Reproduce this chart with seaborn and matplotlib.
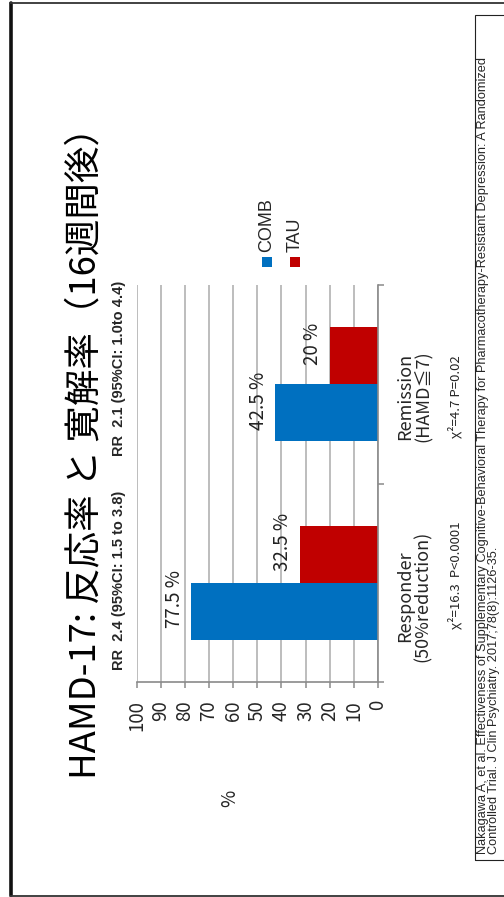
import matplotlib
matplotlib.use("Agg")
import matplotlib.pyplot as plt
import seaborn as sns
import pandas as pd
from matplotlib.patches import Rectangle
from matplotlib.lines import Line2D
from matplotlib.ticker import FixedLocator, NullFormatter

# ---------------- data ----------------
categories = ["Responder", "Remission"]
category_labels = ["Responder\n(50%reduction)", "Remission\n(HAMD≦7)"]
groups = ["COMB", "TAU"]
comb_values = [77.5, 42.5]
tau_values = [32.5, 20.0]
rr_labels = ["RR  2.4 (95%CI: 1.5 to 3.8)", "RR  2.1 (95%CI: 1.0to 4.4)"]
chi_labels = ["χ²=16.3  P<0.0001", "χ²=4.7 P=0.02"]
value_ticks = [0, 10, 20, 30, 40, 50, 60, 70, 80, 90, 100]
title = "HAMD-17: 反応率 と 寛解率（16週間後）"
axis_label = "%"
citation = ("Nakagawa A, et al. Effectiveness of Supplementary Cognitive-Behavioral Therapy for "
            "Pharmacotherapy-Resistant Depression: A Randomized\n"
            "Controlled Trial. J Clin Psychiatry. 2017;78(8):1126-35.")

df = pd.DataFrame({
    "category": categories * 2,
    "group": [groups[0]] * 2 + [groups[1]] * 2,
    "value": comb_values + tau_values,
})

BLUE = "#0070C0"
RED = "#C00000"
GRID = "#b8b8b8"
AXC = "#8a8a8a"
JP = ["Noto Sans CJK JP", "DejaVu Sans"]
ARIAL = ["Liberation Sans", "DejaVu Sans"]

sns.set_theme(style="white")
plt.rcParams["font.family"] = JP

W, H = 504, 897
fig = plt.figure(figsize=(W / 100, H / 100), dpi=100)
fig.patch.set_facecolor("white")


def fx(px):
    return px / W


def fy(py):
    return 1 - py / H


# axes (chart is rotated 90deg: values run right->left, categories bottom->top)
ax = fig.add_axes([fx(136.5), fy(682), (378 - 136.5) / W, (682 - 285) / H])
sns.barplot(data=df, y="category", x="value", hue="group", order=categories,
            hue_order=groups, palette=[BLUE, RED], width=0.575, orient="h",
            saturation=1, legend=False, ax=ax, linewidth=0)
ax.set_xlim(100, 0)
ax.set_ylim(-0.5, 1.5)
ax.set_xlabel("")
ax.set_ylabel("")

# grid & spines
ax.set_axisbelow(True)
ax.xaxis.set_major_locator(FixedLocator(value_ticks))
ax.grid(axis="x", color=GRID, linewidth=1.3)
ax.grid(axis="y", visible=False)
for s in ["left", "top"]:
    ax.spines[s].set_visible(False)
for s in ["right", "bottom"]:
    ax.spines[s].set_visible(True)
    ax.spines[s].set_color(AXC)
    ax.spines[s].set_linewidth(1.2)

ax.set_xticks(value_ticks)
ax.set_xticklabels([str(v) for v in value_ticks], rotation=90, fontsize=13.5,
                   family=JP)
ax.tick_params(axis="x", direction="out", length=4, width=1.1, color=AXC,
               pad=9, bottom=True)
ax.yaxis.tick_right()
ax.set_yticks([0, 1])
ax.yaxis.set_major_formatter(NullFormatter())
ax.tick_params(axis="y", which="major", length=0, right=False, left=False)
ax.yaxis.set_minor_locator(FixedLocator([-0.5, 0.5, 1.5]))
ax.tick_params(axis="y", which="minor", direction="out", length=4.5, width=1.1,
               color=AXC, right=True, left=False)

# bar value labels
for p in ax.patches:
    w = p.get_width()
    if w <= 0:
        continue
    yc = p.get_y() + p.get_height() / 2
    ax.text(w + 2.6, yc + 0.06, f"{w:g} %", rotation=90, ha="right",
            va="center", fontsize=13.5, family=JP, color="#222222")

# title
fig.text(fx(85), fy(444), title, rotation=90, ha="center", va="center",
         fontsize=26.3, family=JP, color="black")

# RR labels
fig.text(fx(119), fy(580), rr_labels[0], rotation=90, ha="center", va="center",
         fontsize=10.5, fontweight="bold", family=ARIAL)
fig.text(fx(119), fy(368), rr_labels[1], rotation=90, ha="center", va="center",
         fontsize=10.5, fontweight="bold", family=ARIAL)

# category labels
for lbl, yc in zip(category_labels, [596, 396]):
    fig.text(fx(414), fy(yc), lbl, rotation=90, ha="center", va="center",
             fontsize=13, family=JP, linespacing=1.0, multialignment="center")
for lbl, yc in zip(chi_labels, [575, 397]):
    fig.text(fx(455), fy(yc), lbl, rotation=90, ha="center", va="center",
             fontsize=9.5, family=JP)

# axis label
fig.text(fx(230), fy(798), axis_label, rotation=90, ha="center", va="center",
         fontsize=13.5, family=JP)

# legend
for name, col, x in zip(groups, [BLUE, RED], [262, 290]):
    fig.add_artist(Rectangle((fx(x), fy(267)), 10 / W, 10 / H, transform=fig.transFigure,
                             facecolor=col, edgecolor="none"))
    fig.text(fx(x + 5), fy(252), name, rotation=90, ha="center", va="bottom",
             fontsize=13, family=ARIAL)

# slide frame
fig.add_artist(Line2D([fx(10.5), fx(10.5)], [fy(3), fy(895)], transform=fig.transFigure,
                      color="#111111", linewidth=2.6))
fig.add_artist(Line2D([fx(10), 1], [fy(3), fy(3)], transform=fig.transFigure,
                      color="#333333", linewidth=1.3))
fig.add_artist(Line2D([fx(10), 1], [fy(895.5), fy(895.5)], transform=fig.transFigure,
                      color="#333333", linewidth=1.3))

# citation box
fig.add_artist(Rectangle((fx(475), fy(860)), (530 - 475) / W, (860 - 15) / H,
                         transform=fig.transFigure, facecolor="none",
                         edgecolor="#222222", linewidth=0.8))
fig.text(fx(488.5), fy(854), citation, rotation=90, ha="center", va="bottom",
         fontsize=9.2, family=ARIAL, linespacing=0.98, multialignment="left")

fig.savefig("out.png", dpi=100, facecolor="white")
